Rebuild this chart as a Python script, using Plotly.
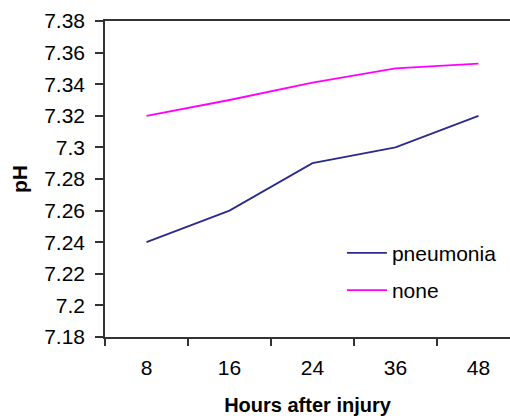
import plotly.graph_objects as go

hours = ["8", "16", "24", "36", "48"]
pneumonia = [7.24, 7.26, 7.29, 7.30, 7.32]
none = [7.32, 7.33, 7.341, 7.35, 7.353]
y_ticks = [7.18, 7.20, 7.22, 7.24, 7.26, 7.28, 7.30, 7.32, 7.34, 7.36, 7.38]
y_labels = ["7.18", "7.2", "7.22", "7.24", "7.26", "7.28", "7.3", "7.32", "7.34", "7.36", "7.38"]

FONT = "Liberation Sans, Arial, sans-serif"

fig = go.Figure()
fig.add_trace(go.Scatter(x=hours, y=pneumonia, mode="lines", name="pneumonia",
                         line=dict(color="#2B2B8C", width=1.8), legendgroup="a"))
fig.add_trace(go.Scatter(x=hours, y=none, mode="lines", name="none",
                         line=dict(color="#FF00FF", width=1.8), legendgroup="b"))

fig.update_layout(
    width=510, height=416,
    margin=dict(l=105, r=0, t=21, b=79),
    paper_bgcolor="white", plot_bgcolor="white",
    font=dict(family=FONT, size=21, color="black"),
    showlegend=True,
    legend=dict(x=0.585, y=0.33, xanchor="left", yanchor="top",
                font=dict(size=21), bgcolor="rgba(0,0,0,0)",
                traceorder="grouped", tracegroupgap=7, itemwidth=40),
    xaxis=dict(type="category", range=[-0.5, 4.38], tickson="boundaries",
               ticks="outside", ticklen=7, tickwidth=1.5, tickcolor="#333",
               showline=True, linecolor="#333", linewidth=1.5, mirror=True,
               showgrid=False, zeroline=False,
               tickfont=dict(size=21), ticklabelstandoff=11,
               title=dict(text="<b>Hours after injury</b>", font=dict(size=20), standoff=21)),
    yaxis=dict(range=[7.18, 7.38], tickvals=y_ticks, ticktext=y_labels,
               ticks="outside", ticklen=8, tickwidth=1.5, tickcolor="#333",
               showline=True, linecolor="#333", linewidth=1.5,
               showgrid=False, zeroline=False,
               tickfont=dict(size=21), ticklabelstandoff=6,
               title=dict(text="<b>pH</b>", font=dict(size=21), standoff=11)),
)

fig.write_html("out.html", config={"displayModeBar": False},
               post_script="document.body.style.margin='0px';")
